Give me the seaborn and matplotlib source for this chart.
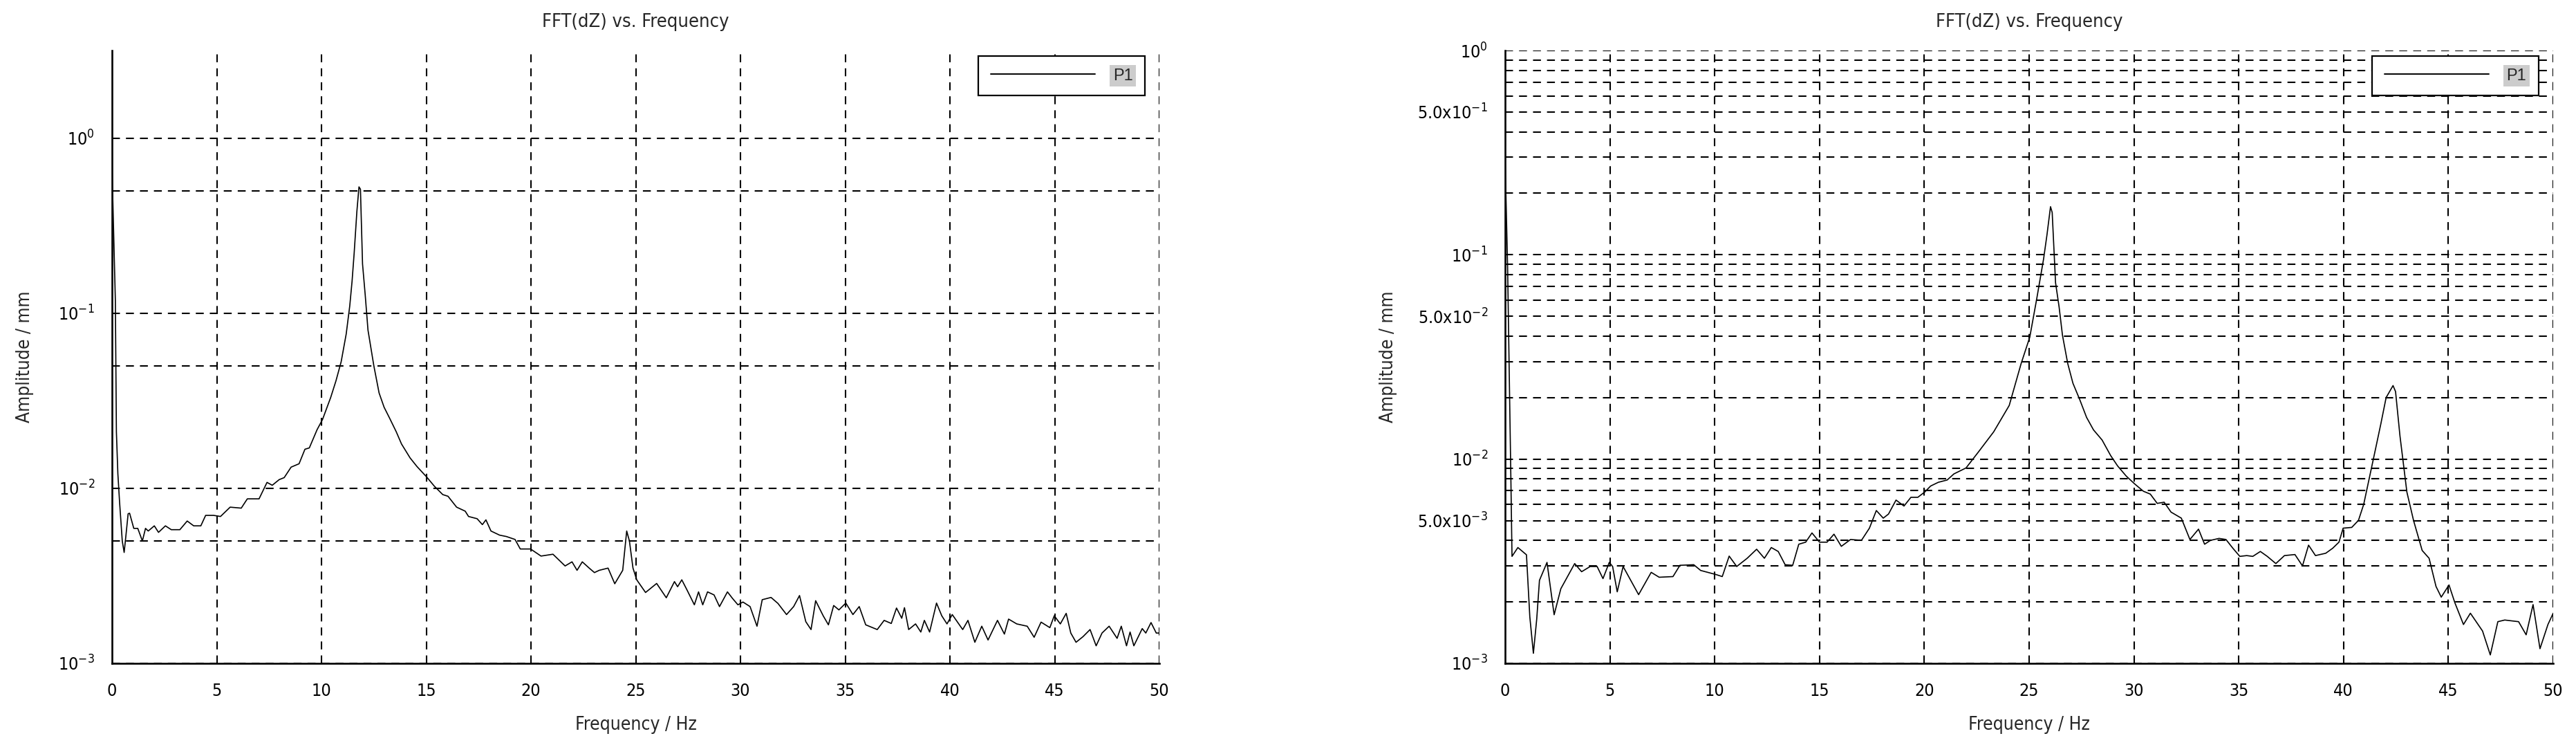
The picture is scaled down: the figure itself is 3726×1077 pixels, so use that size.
import numpy as np
import pandas as pd
import matplotlib
matplotlib.use("Agg")
import matplotlib.pyplot as plt
import matplotlib.ticker as mticker
from matplotlib import font_manager as fm
import seaborn as sns

# ---------------- data ----------------
left_freq = [0.0, 0.16, 0.21, 0.28, 0.36, 0.49, 0.58, 0.66, 0.77, 0.84, 1.04, 1.23, 1.45, 1.60, 1.73,
             2.02, 2.22, 2.55, 2.83, 3.24, 3.59, 3.90, 4.24, 4.47, 4.85, 5.18, 5.64, 6.17, 6.46, 7.02,
             7.40, 7.65, 7.98, 8.22, 8.55, 8.93, 9.21, 9.42, 9.79, 10.05, 10.44, 10.69, 10.94, 11.18,
             11.35, 11.46, 11.56, 11.69, 11.79, 11.86, 11.96, 12.09, 12.22, 12.50, 12.75, 12.99, 13.24,
             13.57, 13.82, 14.23, 14.56, 15.02, 15.38, 15.79, 16.04, 16.45, 16.86, 17.02, 17.43, 17.68,
             17.85, 18.09, 18.50, 18.83, 19.24, 19.49, 19.98, 20.48, 21.05, 21.63, 21.96, 22.20, 22.45,
             22.78, 23.03, 23.26, 23.68, 24.00, 24.38, 24.57, 24.70, 24.87, 25.05, 25.47, 26.00, 26.46,
             26.85, 27.00, 27.20, 27.46, 27.80, 28.00, 28.20, 28.43, 28.74, 29.00, 29.38, 29.62, 29.88,
             30.12, 30.46, 30.79, 31.04, 31.46, 31.79, 32.20, 32.54, 32.82, 33.12, 33.37, 33.59, 33.95,
             34.20, 34.45, 34.70, 35.03, 35.37, 35.67, 35.98, 36.53, 36.86, 37.20, 37.45, 37.70, 37.83,
             38.03, 38.36, 38.61, 38.78, 39.03, 39.36, 39.61, 39.86, 40.11, 40.61, 40.86, 41.19, 41.52,
             41.82, 42.27, 42.60, 42.80, 43.19, 43.69, 44.02, 44.35, 44.77, 44.98, 45.27, 45.55, 45.77,
             46.02, 46.35, 46.69, 46.98, 47.26, 47.60, 47.98, 48.18, 48.43, 48.60, 48.78, 49.18, 49.35,
             49.60, 49.85, 50.00]
left_amp = [0.68, 0.118, 0.021, 0.0121, 0.0084, 0.0050, 0.0043, 0.0053, 0.00715, 0.0072, 0.0059, 0.0059,
            0.0050, 0.0059, 0.0057, 0.0061, 0.0056, 0.0061, 0.0058, 0.0058, 0.0065, 0.0061, 0.0061, 0.0070,
            0.0070, 0.0069, 0.0078, 0.0077, 0.0087, 0.0087, 0.0108, 0.0104, 0.0112, 0.0115, 0.0132, 0.0138,
            0.0167, 0.0170, 0.0216, 0.0247, 0.033, 0.041, 0.0528, 0.076, 0.110, 0.152, 0.22, 0.381, 0.526,
            0.51, 0.191, 0.126, 0.080, 0.050, 0.035, 0.029, 0.0253, 0.021, 0.0179, 0.0149, 0.0133, 0.0116,
            0.0103, 0.0092, 0.0090, 0.0078, 0.0074, 0.0069, 0.0067, 0.0062, 0.0066, 0.0057, 0.0054, 0.0053,
            0.0051, 0.0045, 0.0045, 0.0041, 0.0042, 0.0036, 0.0038, 0.0034, 0.0038, 0.0035, 0.0033, 0.0034,
            0.0035, 0.00285, 0.0034, 0.0057, 0.0050, 0.0035, 0.0030, 0.00254, 0.00286, 0.00237, 0.00293,
            0.00274, 0.00300, 0.00261, 0.00216, 0.00256, 0.00216, 0.00256, 0.00246, 0.00211, 0.00256,
            0.00235, 0.00216, 0.00224, 0.00211, 0.00163, 0.00231, 0.00238, 0.00220, 0.00190, 0.00211,
            0.00244, 0.00173, 0.00156, 0.00228, 0.00187, 0.00166, 0.00214, 0.00202, 0.00221, 0.00190,
            0.00211, 0.00166, 0.00156, 0.00176, 0.00169, 0.00207, 0.00181, 0.00208, 0.00156, 0.00168,
            0.00151, 0.00176, 0.00151, 0.00221, 0.00187, 0.00168, 0.00190, 0.00156, 0.00176, 0.00132,
            0.00163, 0.00136, 0.00176, 0.00147, 0.00179, 0.00168, 0.00163, 0.00141, 0.00172, 0.00160,
            0.00187, 0.00168, 0.00193, 0.00149, 0.00132, 0.00142, 0.00156, 0.00126, 0.00149, 0.00163,
            0.00139, 0.00163, 0.00126, 0.00151, 0.00126, 0.00158, 0.00149, 0.00171, 0.00149, 0.00149]

right_freq = [0.0, 0.12, 0.20, 0.28, 0.33, 0.61, 1.02, 1.18, 1.35, 1.51, 1.64, 2.00, 2.34, 2.66, 3.32,
              3.65, 4.06, 4.39, 4.67, 4.97, 5.13, 5.35, 5.63, 6.37, 6.97, 7.35, 8.01, 8.34, 9.00, 9.33,
              10.07, 10.36, 10.69, 11.05, 11.55, 12.00, 12.37, 12.70, 13.03, 13.36, 13.72, 14.01, 14.34,
              14.64, 15.00, 15.36, 15.69, 16.04, 16.48, 17.00, 17.38, 17.71, 18.04, 18.29, 18.65, 19.03,
              19.36, 19.69, 20.02, 20.30, 20.67, 21.09, 21.41, 21.99, 22.57, 23.31, 24.05, 24.62, 25.03,
              25.36, 25.69, 25.85, 26.02, 26.10, 26.26, 26.43, 26.59, 26.84, 27.09, 27.41, 27.74, 28.07,
              28.48, 28.89, 29.22, 29.63, 30.04, 30.45, 30.78, 31.11, 31.44, 31.77, 32.26, 32.67, 33.08,
              33.37, 33.65, 34.06, 34.39, 34.72, 35.05, 35.38, 35.67, 36.03, 36.36, 36.77, 37.18, 37.68,
              38.04, 38.33, 38.66, 39.15, 39.48, 39.78, 39.98, 40.39, 40.71, 40.96, 41.21, 41.54, 41.78,
              42.03, 42.36, 42.48, 42.69, 43.02, 43.34, 43.75, 44.08, 44.41, 44.66, 45.03, 45.31, 45.72,
              46.05, 46.63, 47.00, 47.36, 47.69, 48.35, 48.71, 49.04, 49.37, 49.75, 50.00]
right_amp = [0.297, 0.087, 0.0257, 0.00755, 0.00334, 0.00369, 0.0034, 0.00169, 0.00112, 0.00165, 0.00255,
             0.00312, 0.00173, 0.00232, 0.00308, 0.00281, 0.00298, 0.00298, 0.0026, 0.00312, 0.00298,
             0.00224, 0.00298, 0.00217, 0.00279, 0.00264, 0.00266, 0.00302, 0.00304, 0.00285, 0.00272,
             0.00266, 0.00335, 0.00298, 0.00327, 0.00362, 0.00327, 0.00369, 0.00353, 0.00304, 0.00302,
             0.00383, 0.00392, 0.00435, 0.00392, 0.00392, 0.00429, 0.00374, 0.00404, 0.0040, 0.00459,
             0.0056, 0.00514, 0.00538, 0.0063, 0.00589, 0.0065, 0.0065, 0.0069, 0.00738, 0.0077, 0.0079,
             0.00846, 0.00905, 0.0108, 0.0136, 0.0183, 0.0294, 0.0395, 0.0607, 0.0955, 0.125, 0.172, 0.161,
             0.073, 0.0555, 0.0404, 0.0294, 0.0235, 0.0196, 0.016, 0.0139, 0.0124, 0.0104, 0.00926, 0.00826,
             0.00755, 0.00696, 0.00674, 0.00607, 0.00615, 0.0055, 0.00514, 0.00404, 0.00454, 0.00383, 0.0040,
             0.00409, 0.00404, 0.00366, 0.00334, 0.00337, 0.00334, 0.00353, 0.00334, 0.00308, 0.00337,
             0.00341, 0.0030, 0.00379, 0.00337, 0.00346, 0.00366, 0.00392, 0.00459, 0.00463, 0.00501, 0.0060,
             0.0079, 0.0114, 0.0149, 0.0200, 0.0229, 0.0214, 0.0130, 0.0069, 0.0050, 0.00357, 0.00327,
             0.00238, 0.00211, 0.00242, 0.00198, 0.00155, 0.00176, 0.00144, 0.0011, 0.0016, 0.00163, 0.0016,
             0.00138, 0.00194, 0.00118, 0.00155, 0.00176]

title_text = "FFT(dZ) vs. Frequency"
xlabel_text = "Frequency / Hz"
ylabel_text = "Amplitude / mm"
series_name = "P1"
x_major_ticks = [0, 5, 10, 15, 20, 25, 30, 35, 40, 45, 50]
left_y_labeled = [1e-3, 1e-2, 1e-1, 1e0]
left_y_grid_minor = [5e-3, 5e-2, 5e-1]
right_y_labeled = [1e-3, 5e-3, 1e-2, 5e-2, 1e-1, 5e-1, 1e0]
right_y_labels = [r"$\mathregular{10^{-3}}$", r"$\mathregular{5.0x10^{-3}}$", r"$\mathregular{10^{-2}}$",
                  r"$\mathregular{5.0x10^{-2}}$", r"$\mathregular{10^{-1}}$", r"$\mathregular{5.0x10^{-1}}$",
                  r"$\mathregular{10^{0}}$"]

# ---------------- style ----------------
sns.set_style("white")
names = {f.name for f in fm.fontManager.ttflist}
if "Liberation Sans Narrow" in names:
    narrow = "Liberation Sans Narrow"
    stretch = "normal"
else:
    narrow = "DejaVu Sans"
    stretch = "condensed"
regular = "Liberation Sans" if "Liberation Sans" in names else "DejaVu Sans"
plt.rcParams["font.family"] = [narrow, "DejaVu Sans"]
plt.rcParams["font.stretch"] = stretch
plt.rcParams["mathtext.fontset"] = "custom"
plt.rcParams["mathtext.rm"] = narrow
plt.rcParams["mathtext.it"] = narrow
plt.rcParams["mathtext.bf"] = narrow
plt.rcParams["axes.unicode_minus"] = True

W, H = 3726, 1077
fig = plt.figure(figsize=(W / 100, H / 100), dpi=100)
fig.patch.set_facecolor("white")

ax_top, ax_bot = 73, 959
ax1 = fig.add_axes([162 / W, 1 - ax_bot / H, 1515 / W, (ax_bot - ax_top) / H])
ax2 = fig.add_axes([2177 / W, 1 - ax_bot / H, 1516 / W, (ax_bot - ax_top) / H])

df_left = pd.DataFrame({"Frequency": left_freq, "Amplitude": left_amp})
df_right = pd.DataFrame({"Frequency": right_freq, "Amplitude": right_amp})

grid_kw = dict(color="black", linewidth=1.5, linestyle=(0, (5.5, 4.2)))

for ax, df, ytop in [(ax1, df_left, 3.16), (ax2, df_right, 1.0)]:
    sns.lineplot(data=df, x="Frequency", y="Amplitude", ax=ax, color="black",
                 linewidth=1.2, estimator=None, label=series_name, zorder=5)
    ax.set_yscale("log")
    ax.set_xlim(0, 50)
    ax.set_ylim(1e-3, ytop)
    ax.set_facecolor("white")
    for s in ["top", "right"]:
        ax.spines[s].set_visible(False)
    for s in ["left", "bottom"]:
        ax.spines[s].set_linewidth(1.9)
        ax.spines[s].set_color("black")
        ax.spines[s].set_zorder(6)
    ax.xaxis.set_major_locator(mticker.FixedLocator(x_major_ticks))
    ax.xaxis.set_minor_locator(mticker.MultipleLocator(1))
    ax.xaxis.set_major_formatter(mticker.FuncFormatter(lambda v, p: "%d" % v))
    ax.tick_params(axis="x", which="major", direction="out", length=11.5, width=1.5, pad=9,
                   labelsize=18, colors="black")
    ax.tick_params(axis="x", which="minor", direction="out", length=6.5, width=1.5)
    ax.tick_params(axis="y", which="major", direction="out", length=10, width=1.5, pad=8,
                   labelsize=18, colors="black")
    ax.tick_params(axis="y", which="minor", direction="out", length=5, width=1.5)
    ax.xaxis.grid(True, which="major", **grid_kw)
    ax.yaxis.grid(True, which="both", **grid_kw)
    ax.set_axisbelow(True)

    ax.set_xlabel(xlabel_text, fontsize=19)
    ax.set_ylabel(ylabel_text, fontsize=19)
    ax.xaxis.label.set_va("center")
    ax.xaxis.set_label_coords(0.5, -(1048 - ax_bot) / (ax_bot - ax_top))
    ax.yaxis.label.set_va("center")
    ax.set_title(title_text, fontsize=19.5, y=1 + (ax_top - 32) / (ax_bot - ax_top), pad=0,
                 va="center")

    leg = ax.legend(loc="upper right", bbox_to_anchor=(0.9862, 0.991), frameon=True, fancybox=False,
                    edgecolor="black", framealpha=1, handlelength=6.4, handletextpad=1.1,
                    borderpad=0.75, borderaxespad=0,
                    prop=fm.FontProperties(family=regular, size=17))
    leg.get_frame().set_linewidth(1.6)
    leg.set_zorder(10)
    for t in leg.get_texts():
        t.set_bbox(dict(facecolor="#cccccc", edgecolor="none", pad=3))
    for l in leg.get_lines():
        l.set_linewidth(1.4)

# left axis ticks: labels at decades, dashed grid also at 5x
ax1.yaxis.set_major_locator(mticker.FixedLocator(left_y_labeled))
ax1.yaxis.set_major_formatter(mticker.FuncFormatter(
    lambda v, p: r"$\mathregular{10^{%d}}$" % int(round(np.log10(v)))))
ax1.yaxis.set_minor_locator(mticker.FixedLocator(left_y_grid_minor))
ax1.yaxis.set_minor_formatter(mticker.NullFormatter())
ax1.yaxis.set_label_coords(-(162 - 36) / 1515, 0.5)

# right axis ticks: all 1..9 subdivisions
ax2.yaxis.set_major_locator(mticker.FixedLocator(right_y_labeled))
ax2.yaxis.set_major_formatter(mticker.FixedFormatter(right_y_labels))
ax2.yaxis.set_minor_locator(mticker.LogLocator(base=10, subs=(2, 3, 4, 6, 7, 8, 9)))
ax2.yaxis.set_minor_formatter(mticker.NullFormatter())
ax2.yaxis.set_label_coords(-(2177 - 2008) / 1516, 0.5)

fig.savefig("out.png", dpi=100, facecolor="white")
